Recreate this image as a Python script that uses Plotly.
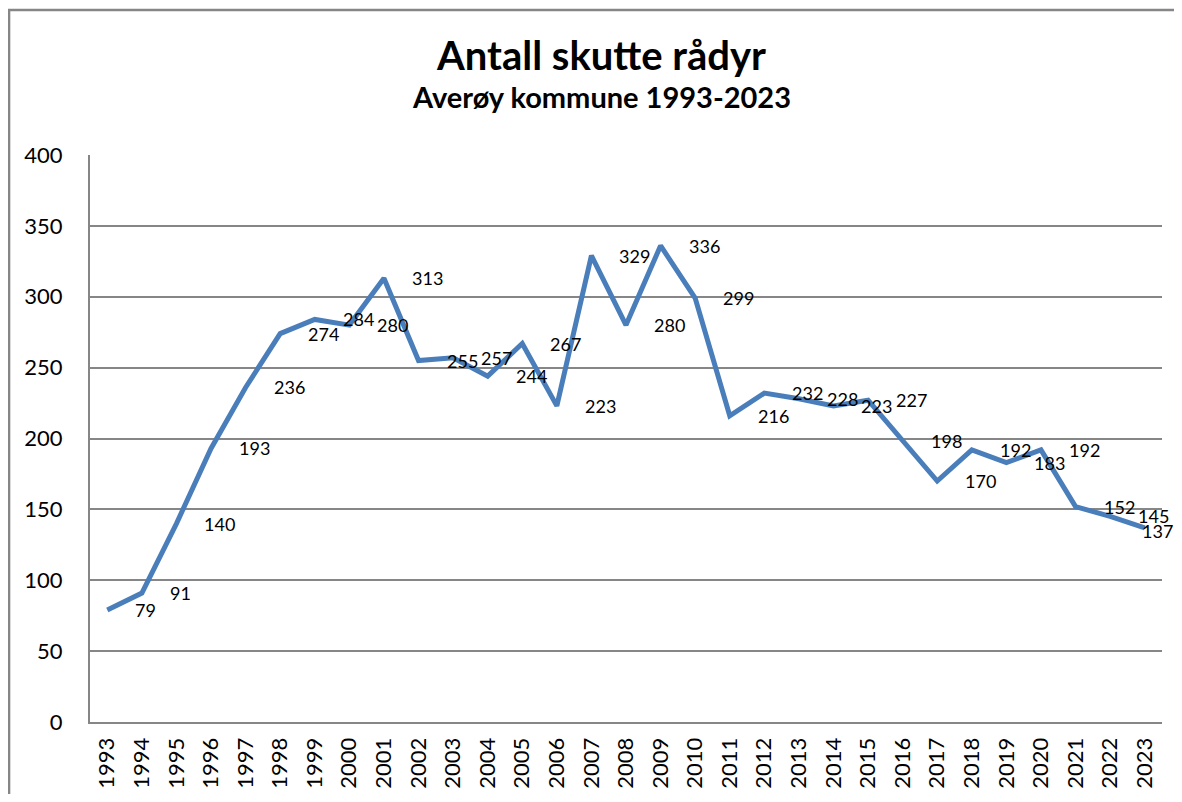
import plotly.graph_objects as go

years = list(range(1993, 2024))
values = [79, 91, 140, 193, 236, 274, 284, 280, 313, 255, 257, 244, 267, 223,
          329, 280, 336, 299, 216, 232, 228, 223, 227, 198, 170, 192, 183, 192,
          152, 145, 137]
title = "Antall skutte rådyr"
subtitle = "Averøy kommune 1993-2023"
y_ticks = [0, 50, 100, 150, 200, 250, 300, 350, 400]

FONT = "Lato, 'Open Sans', sans-serif"
GRID = "#868686"

fig = go.Figure()
fig.add_trace(go.Scatter(
    x=years, y=values, mode="lines",
    line=dict(color="#4a7ebb", width=5),
    hoverinfo="x+y", showlegend=False,
))

for i, (yr, v) in enumerate(zip(years, values)):
    last = i == len(years) - 1
    fig.add_annotation(
        x=yr, y=v, text=str(v), showarrow=False,
        xanchor="left", yanchor="middle",
        xshift=-5 if last else 26,
        yshift=-3 if last else 0,
        font=dict(family=FONT, size=18, color="black"),
    )

fig.add_annotation(x=0.4767, y=1.177, xref="paper", yref="paper", text=f"<b>{title}</b>",
                   showarrow=False, xanchor="center", yanchor="middle",
                   font=dict(family=FONT, size=40, color="black"))
fig.add_annotation(x=0.4767, y=1.1035, xref="paper", yref="paper", text=f"<b>{subtitle}</b>",
                   showarrow=False, xanchor="center", yanchor="middle",
                   font=dict(family=FONT, size=29, color="black"))

# outer chart border
fig.add_shape(type="rect", xref="paper", yref="paper",
              x0=-0.0755, x1=1.05, y0=-0.2, y1=1.2557,
              line=dict(color=GRID, width=2.5), fillcolor="rgba(0,0,0,0)", layer="above")

fig.update_layout(
    width=1166, height=786,
    margin=dict(l=82, r=12, t=147, b=72, autoexpand=False),
    paper_bgcolor="white", plot_bgcolor="white",
    font=dict(family=FONT, color="black"),
)
fig.update_xaxes(
    range=[years[0] - 0.5, years[-1] + 0.5],
    tickmode="array", tickvals=years, ticktext=[str(y) for y in years],
    tickangle=-90, tickfont=dict(size=22, family=FONT, color="black"),
    showgrid=False, showline=True, linecolor=GRID, linewidth=2,
    ticks="outside", ticklen=5, tickcolor="rgba(0,0,0,0)",
    zeroline=False, automargin=False,
)
fig.update_yaxes(
    range=[0, 400], tickmode="array", tickvals=y_ticks,
    tickfont=dict(size=22, family=FONT, color="black"),
    showgrid=True, gridcolor=GRID, gridwidth=1.5,
    showline=True, linecolor=GRID, linewidth=2,
    ticks="outside", ticklen=21, tickcolor="rgba(0,0,0,0)",
    zeroline=False, automargin=False,
)

fig.write_html("out.html")
